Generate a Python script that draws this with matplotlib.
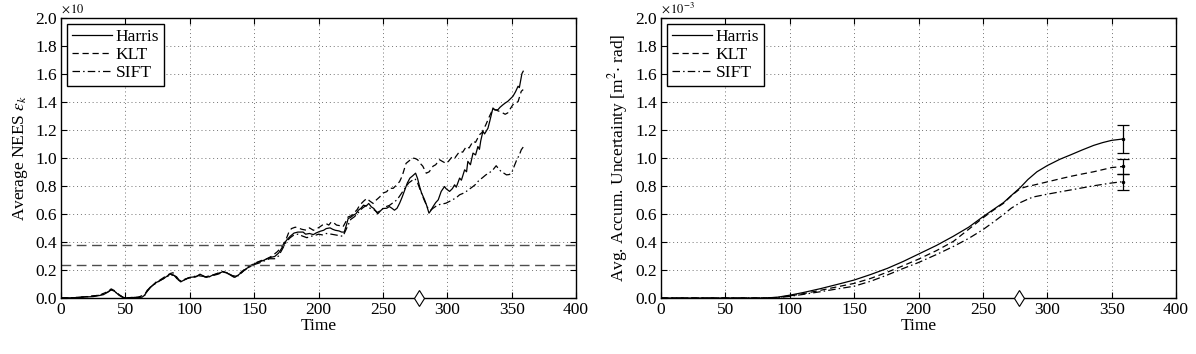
import numpy as np
import matplotlib
matplotlib.use("Agg")
import matplotlib.pyplot as plt

plt.rcParams['font.family'] = ['Liberation Serif', 'DejaVu Serif']
plt.rcParams['mathtext.fontset'] = 'stix'

# ---------------- Left: Average NEES ----------------
harris_nees_t = [0, 10, 20, 25, 30, 33, 36, 39, 42, 45, 48, 50, 55, 60, 63, 65, 67, 69, 72, 74, 77, 80, 83, 85, 87, 89, 91, 93, 96, 100,
                 103, 105, 108, 110, 113, 116, 118, 122, 126, 128, 131, 135, 138, 140, 144, 147, 150, 153, 157, 160, 163, 166, 169, 172,
                 175, 178, 181, 184, 188, 190, 193, 196, 198, 201, 204, 206, 209, 211, 213, 216, 218, 220, 222, 223, 225, 227, 229, 231,
                 233, 235, 237, 239, 241, 243, 246, 248, 250, 253, 255, 257, 259, 261, 263, 265, 267, 269, 271, 273, 275.4, 277, 278.5,
                 280, 282.4, 284, 285.8, 287, 289, 291, 293, 295.3, 297.9, 299, 301.8, 304, 305.7, 307, 309.6, 311, 313.5, 315, 316, 318,
                 320, 322, 323.8, 325, 326, 327.7, 329, 331.6, 333, 335.5, 337, 339.4, 341, 343.3, 345, 347, 349, 351, 353, 355, 356, 357,
                 358, 359]
harris_nees_v = [0, 0.002, 0.008, 0.01, 0.018, 0.024, 0.04, 0.06, 0.045, 0.02, 0.005, 0.0, 0.003, 0.004, 0.006, 0.02, 0.05, 0.075, 0.095,
                 0.11, 0.125, 0.14, 0.16, 0.17, 0.165, 0.155, 0.13, 0.115, 0.13, 0.147, 0.15, 0.152, 0.17, 0.16, 0.147, 0.155, 0.164, 0.175,
                 0.188, 0.18, 0.17, 0.147, 0.166, 0.18, 0.21, 0.225, 0.243, 0.255, 0.267, 0.28, 0.29, 0.296, 0.32, 0.363, 0.41, 0.44, 0.463,
                 0.47, 0.47, 0.455, 0.46, 0.452, 0.463, 0.475, 0.483, 0.495, 0.5, 0.49, 0.483, 0.478, 0.47, 0.47, 0.53, 0.566, 0.575, 0.59,
                 0.6, 0.626, 0.64, 0.662, 0.655, 0.674, 0.65, 0.638, 0.6, 0.62, 0.638, 0.64, 0.652, 0.64, 0.626, 0.64, 0.676, 0.72, 0.77,
                 0.82, 0.855, 0.87, 0.89, 0.85, 0.795, 0.75, 0.7, 0.66, 0.605, 0.62, 0.652, 0.68, 0.7, 0.76, 0.795, 0.78, 0.76, 0.78, 0.807,
                 0.79, 0.855, 0.84, 0.914, 0.9, 0.974, 0.95, 1.033, 1.02, 1.08, 1.06, 1.12, 1.188, 1.17, 1.21, 1.26, 1.355, 1.34, 1.343,
                 1.36, 1.378, 1.39, 1.402, 1.42, 1.438, 1.47, 1.51, 1.5, 1.55, 1.6, 1.617]

klt_nees_t = [0, 10, 20, 30, 36, 39, 42, 45, 48, 50, 55, 60, 65, 67, 70, 74, 78, 82, 85, 87, 89, 92, 95, 100, 104, 108, 112, 116, 120,
              125, 129, 133, 136, 140, 144, 148, 151, 155, 160, 164, 168, 172, 175, 177, 179, 182, 184, 187, 190.7, 193, 196, 198, 201,
              203, 206, 208, 210, 212, 214, 217, 219, 221, 223, 225, 227, 230, 232, 235, 237.5, 240, 242.5, 245, 247.7, 250, 253, 255,
              258, 260, 263, 265, 268, 270, 273, 275, 277, 279, 281, 283.7, 286, 289, 291, 294, 296, 299, 301, 304, 306, 309.6, 312,
              314.8, 317, 320, 322, 325, 327, 330, 333, 335.5, 338, 340.6, 343, 345, 347, 349, 351, 353, 355, 357.5, 359]
klt_nees_v = [0, 0.002, 0.01, 0.02, 0.045, 0.065, 0.05, 0.025, 0.006, 0.0, 0.004, 0.005, 0.025, 0.055, 0.08, 0.115, 0.135, 0.16, 0.175,
              0.18, 0.16, 0.125, 0.13, 0.145, 0.15, 0.165, 0.15, 0.16, 0.17, 0.19, 0.18, 0.16, 0.155, 0.185, 0.215, 0.235, 0.25, 0.265,
              0.28, 0.3, 0.33, 0.37, 0.423, 0.47, 0.495, 0.505, 0.5, 0.49, 0.483, 0.5, 0.483, 0.49, 0.507, 0.52, 0.53, 0.52, 0.543,
              0.535, 0.52, 0.515, 0.507, 0.54, 0.578, 0.585, 0.6, 0.63, 0.662, 0.69, 0.71, 0.69, 0.674, 0.7, 0.722, 0.748, 0.758,
              0.783, 0.782, 0.8, 0.83, 0.87, 0.96, 0.975, 0.998, 0.995, 0.986, 0.96, 0.94, 0.89, 0.9, 0.94, 0.95, 0.986, 0.975, 0.96,
              0.975, 1.01, 1.0, 1.045, 1.04, 1.08, 1.07, 1.117, 1.11, 1.164, 1.18, 1.236, 1.3, 1.348, 1.34, 1.33, 1.32, 1.31, 1.32,
              1.35, 1.378, 1.39, 1.40, 1.474, 1.486]

sift_nees_t = [0, 10, 20, 30, 36, 39, 42, 45, 48, 50, 55, 60, 65, 67, 70, 74, 78, 82, 85, 88, 91, 94, 98, 102, 106, 110, 114, 118, 122,
               126, 130, 134, 138, 142, 146, 150, 154, 158, 162, 166, 169, 172, 175, 178, 181, 184, 188, 191, 194, 197, 200, 203, 206,
               210, 213, 216, 219, 222, 225, 228, 231, 234, 237, 240, 243, 246, 249, 252, 255, 258, 261, 264, 267, 270, 273, 275, 277,
               279, 282, 285, 287, 289, 292.7, 296, 299, 302, 304, 307, 309.6, 312, 314.8, 317, 320, 322, 325, 327, 330, 333, 335.5,
               338, 340, 342, 344, 346, 348, 350, 352, 354, 356, 357.5, 359]
sift_nees_v = [0, 0.002, 0.009, 0.02, 0.04, 0.058, 0.044, 0.022, 0.006, 0, 0.003, 0.005, 0.02, 0.048, 0.08, 0.108, 0.13, 0.15, 0.165,
               0.16, 0.128, 0.12, 0.14, 0.15, 0.16, 0.155, 0.148, 0.16, 0.17, 0.185, 0.172, 0.15, 0.16, 0.195, 0.22, 0.238, 0.25, 0.265,
               0.28, 0.28, 0.3, 0.35, 0.4, 0.43, 0.45, 0.455, 0.44, 0.43, 0.44, 0.445, 0.455, 0.45, 0.46, 0.455, 0.45, 0.445, 0.44, 0.5,
               0.56, 0.58, 0.61, 0.64, 0.66, 0.64, 0.63, 0.61, 0.63, 0.65, 0.66, 0.68, 0.7, 0.74, 0.78, 0.82, 0.84, 0.85, 0.82, 0.77,
               0.7, 0.64, 0.625, 0.64, 0.664, 0.67, 0.676, 0.69, 0.7, 0.715, 0.736, 0.745, 0.76, 0.775, 0.795, 0.81, 0.843, 0.855, 0.878,
               0.895, 0.914, 0.943, 0.92, 0.9, 0.89, 0.878, 0.88, 0.89, 0.94, 0.986, 1.02, 1.057, 1.076]

nees_bounds = [0.376, 0.236]

# ---------------- Right: accumulated uncertainty ----------------
harris_unc_t = [0, 60, 80, 90, 100, 110, 124, 137, 150, 163, 176, 188, 200, 214, 227, 239, 250, 258, 266, 272, 279, 285, 292, 300, 310,
                318, 327, 336, 343, 350, 359]
harris_unc_v = [0, 0, 0.0, 0.005, 0.02, 0.038, 0.067, 0.097, 0.128, 0.168, 0.212, 0.26, 0.313, 0.375, 0.44, 0.505, 0.579, 0.63, 0.68,
                0.73, 0.787, 0.845, 0.9, 0.944, 0.99, 1.02, 1.055, 1.088, 1.108, 1.124, 1.134]
klt_unc_t = [0, 80, 90, 100, 110, 124, 137, 150, 163, 176, 188, 200, 214, 227, 239, 250, 258, 266, 272, 279, 285, 289, 300, 310, 318,
             327, 336, 343, 350, 359]
klt_unc_v = [0, 0, 0.004, 0.015, 0.03, 0.055, 0.08, 0.104, 0.14, 0.185, 0.23, 0.277, 0.338, 0.403, 0.49, 0.571, 0.625, 0.675, 0.728,
             0.78, 0.797, 0.804, 0.828, 0.85, 0.867, 0.884, 0.9, 0.915, 0.93, 0.938]
sift_unc_t = [0, 80, 90, 100, 110, 124, 137, 150, 163, 176, 188, 200, 214, 227, 239, 250, 258, 266, 272, 279, 285, 289, 300, 310, 318,
              327, 336, 343, 350, 359]
sift_unc_v = [0, 0, 0.003, 0.012, 0.025, 0.045, 0.065, 0.084, 0.12, 0.165, 0.21, 0.253, 0.31, 0.367, 0.425, 0.487, 0.54, 0.595, 0.64,
              0.68, 0.705, 0.72, 0.74, 0.757, 0.77, 0.785, 0.8, 0.81, 0.82, 0.83]

err_t = 359
err_center = [1.134, 0.938, 0.83]
err_half = [0.103, 0.052, 0.057]

marker_t = 278

labels = ['Harris', 'KLT', 'SIFT']
styles = [dict(ls='-'), dict(dashes=(5, 3)), dict(dashes=(6, 2.5, 1.2, 2.5))]

fig = plt.figure(figsize=(11.96, 3.54), dpi=100)
axL = fig.add_axes([61/1196, 56/354, 515/1196, 280.5/354])
axR = fig.add_axes([661/1196, 56/354, 515/1196, 280.5/354])

lw = 0.9
for ax in (axL, axR):
    ax.set_xlim(0, 400)
    ax.set_ylim(0, 2.0)
    ax.set_xticks(np.arange(0, 401, 50))
    ax.set_yticks(np.arange(0, 2.01, 0.2))
    ax.set_yticklabels(['%.1f' % v for v in np.arange(0, 2.01, 0.2)])
    ax.tick_params(direction='in', top=True, right=True, labelsize=12.5, length=4, width=0.8, pad=3)
    ax.grid(True, ls=(0, (1, 3)), color='0.45', lw=0.7)
    for s in ax.spines.values():
        s.set_linewidth(1.0)
    ax.set_xlabel('Time', fontsize=12.5, labelpad=0)
    ax.plot([marker_t], [0], marker='d', ms=8, mfc='white', mec='black', mew=0.8, clip_on=False, zorder=5)

series_L = [(harris_nees_t, harris_nees_v), (klt_nees_t, klt_nees_v), (sift_nees_t, sift_nees_v)]
for (t, v), lab, st in zip(series_L, labels, styles):
    axL.plot(t, v, color='black', lw=lw, label=lab, **st)
for b in nees_bounds:
    axL.axhline(b, color='0.3', lw=1.0, dashes=(7, 4))

series_R = [(harris_unc_t, harris_unc_v), (klt_unc_t, klt_unc_v), (sift_unc_t, sift_unc_v)]
for (t, v), lab, st in zip(series_R, labels, styles):
    axR.plot(t, v, color='black', lw=lw, label=lab, **st)
axR.errorbar([err_t] * 3, err_center, yerr=err_half, fmt='.', ms=3, color='black', ecolor='black',
             elinewidth=0.9, capsize=4, capthick=0.9)

axL.set_ylabel(r'Average NEES $\varepsilon_k$', fontsize=12.5, labelpad=4)
axR.set_ylabel(r'Avg. Accum. Uncertainty [m$^2$$\cdot$ rad]', fontsize=12.5, labelpad=4)

axL.text(0.0, 1.005, r'$\times\,10$', transform=axL.transAxes, fontsize=9, ha='left', va='bottom')
axR.text(0.0, 1.005, r'$\times\,10^{-3}$', transform=axR.transAxes, fontsize=9, ha='left', va='bottom')

for ax in (axL, axR):
    leg = ax.legend(loc='upper left', fontsize=12.5, handlelength=2.3, handletextpad=0.2, borderaxespad=0.35,
                    fancybox=False, framealpha=1, edgecolor='black', borderpad=0.3, labelspacing=0.1)
    leg.get_frame().set_linewidth(1.0)

fig.savefig('out.png', dpi=100)
